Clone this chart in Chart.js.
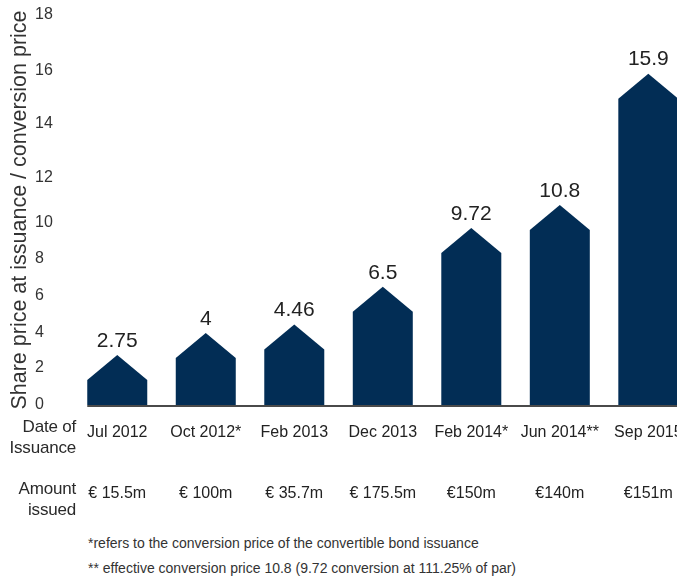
<!DOCTYPE html>
<html>
<head>
<meta charset="utf-8">
<script src="https://cdn.jsdelivr.net/npm/chart.js@4/dist/chart.umd.min.js"></script>
<style>
  html, body { margin: 0; padding: 0; background: #fff; overflow: hidden; }
  body { width: 677px; height: 578px; position: relative; font-family: "Liberation Sans", Arial, sans-serif; color: #2a2a2a; }
  #wrap { position: absolute; left: 0; top: 0; width: 700px; height: 520px; }
  .rowhead { position: absolute; left: 0; width: 76px; text-align: right; font-size: 17px; line-height: 21px; letter-spacing: -0.2px; }
  #notes { position: absolute; left: 88px; top: 531px; font-size: 14px; line-height: 25px; color: #333; white-space: nowrap; }
</style>
</head>
<body>
<div id="wrap"><canvas id="chart"></canvas></div>
<div class="rowhead" style="top:416px">Date of<br>Issuance</div>
<div class="rowhead" style="top:478px">Amount<br>issued</div>
<div id="notes">*refers to the conversion price of the convertible bond issuance<br>** effective conversion price 10.8 (9.72 conversion at 111.25% of par)</div>
<script>
// issuance data
const issueDates = ['Jul 2012', 'Oct 2012*', 'Feb 2013', 'Dec 2013', 'Feb 2014*', 'Jun 2014**', 'Sep 2015'];
const amounts = ['€ 15.5m', '€ 100m', '€ 35.7m', '€ 175.5m', '€150m', '€140m', '€151m'];
const prices = [2.75, 4, 4.46, 6.5, 9.72, 10.8, 15.9];
const priceLabels = ['2.75', '4', '4.46', '6.5', '9.72', '10.8', '15.9'];

// y axis in the original is stretched unevenly, relative spacing of each 2-step
const stepGaps = [37, 35, 37, 37, 36, 45, 54, 53, 56];

class SteppedScale extends Chart.LinearScale {
    static id = 'stepped';
    static defaults = {};
    toDecimal(value) {
        const total = stepGaps.reduce((a, b) => a + b, 0);
        let i = Math.min(Math.floor(value / 2), stepGaps.length - 1);
        if (i < 0) i = 0;
        let acc = 0;
        for (let k = 0; k < i; k++) acc += stepGaps[k];
        acc += (value - i * 2) / 2 * stepGaps[i];
        return acc / total;
    }
    getPixelForValue(value) {
        return value === null ? NaN : this.getPixelForDecimal(this.toDecimal(value));
    }
}
Chart.register(SteppedScale);

const navy = '#022d55';
const roofHeight = 25;

// draws the bars as little houses + value on top + baseline
const housePlugin = {
    id: 'houses',
    afterDatasetsDraw(chart) {
        const ctx = chart.ctx;
        const meta = chart.getDatasetMeta(0);
        ctx.save();
        meta.data.forEach((bar, i) => {
            const p = bar.getProps(['x', 'y', 'base', 'width'], true);
            const l = p.x - p.width / 2, r = p.x + p.width / 2;
            ctx.fillStyle = navy;
            ctx.beginPath();
            ctx.moveTo(l, p.base);
            ctx.lineTo(l, p.y + roofHeight);
            ctx.lineTo(p.x, p.y);
            ctx.lineTo(r, p.y + roofHeight);
            ctx.lineTo(r, p.base);
            ctx.closePath();
            ctx.fill();

            ctx.fillStyle = '#222';
            ctx.font = '21px "Liberation Sans", Arial, sans-serif';
            ctx.textAlign = 'center';
            ctx.textBaseline = 'middle';
            ctx.fillText(priceLabels[i], p.x, p.y - 14);
        });
        // baseline
        const first = meta.data[0].getProps(['x', 'base', 'width'], true);
        ctx.strokeStyle = '#4a4a4a';
        ctx.lineWidth = 2;
        ctx.beginPath();
        ctx.moveTo(first.x - first.width / 2, first.base + 1);
        ctx.lineTo(chart.width, first.base + 1);
        ctx.stroke();
        ctx.restore();
    }
};

const ctx = document.getElementById('chart');
new Chart(ctx, {
    type: 'bar',
    data: {
        labels: issueDates.map((d, i) => [d, '', '', amounts[i]]),
        datasets: [{
            data: prices,
            backgroundColor: 'rgba(0,0,0,0)',
            barThickness: 60
        }]
    },
    options: {
        responsive: true,
        maintainAspectRatio: false,
        animation: false,
        events: [],
        layout: { padding: { left: 4, right: 6, top: 15, bottom: 0 } },
        scales: {
            x: {
                grid: { display: false, drawTicks: false },
                border: { display: false },
                ticks: {
                    autoSkip: false,
                    maxRotation: 0,
                    padding: 17,
                    color: '#222',
                    font: { family: '"Liberation Sans", Arial, sans-serif', size: 16, lineHeight: 1.28 }
                },
                afterFit(scale) { scale.height = 115; }
            },
            y: {
                type: 'stepped',
                min: 0,
                max: 18,
                grid: { display: false, drawTicks: false },
                border: { display: false },
                ticks: {
                    stepSize: 2,
                    mirror: true,
                    padding: -38,
                    color: '#333',
                    font: { family: '"Liberation Sans", Arial, sans-serif', size: 16 },
                    callback: v => String(v)
                },
                title: {
                    display: true,
                    text: 'Share price at issuance / conversion price',
                    color: '#333',
                    font: { family: '"Liberation Sans", Arial, sans-serif', size: 21.5 },
                    padding: { top: 3, bottom: 0 }
                },
                afterFit(scale) { scale.width = 69; }
            }
        },
        plugins: {
            legend: { display: false },
            tooltip: { enabled: false }
        }
    },
    plugins: [housePlugin]
});
</script>
</body>
</html>
